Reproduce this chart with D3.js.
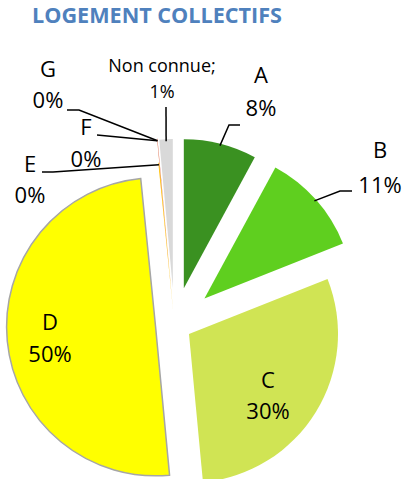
<!DOCTYPE html>
<html>
<head>
<meta charset="utf-8">
<script src="https://cdn.jsdelivr.net/npm/d3@7"></script>
<style>
  body { margin: 0; background: #fff; }
  svg { display: block; }
</style>
</head>
<body>
<div class="chart"></div>
<script>
// data
const categories = ["A", "B", "C", "D", "E", "F", "G", "Non connue"];
const values = [7.9, 11.1, 29.5, 49.9, 0.1, 0.02, 0.02, 1.45];
const colors = ["#3a9121", "#5fcf1f", "#d0e454", "#ffff00", "#ffc000", "#e36c09", "#c00000", "#d9d9d9"];

const width = 406;
const height = 479;
const radius = 149;
const cx = 174.5, cy = 325;

// how far each slice is pulled out of the pie
const explode = [38, 40, 17, 19, 14, 38, 38, 37];

// label layout: first baseline, line height, font size, leader elbow / end
const labelLayout = {
  "A":          { x: 261, y: 83,  lh: 33, size: 22, leader: [[229, 125], [240, 125]] },
  "B":          { x: 380, y: 158, lh: 35, size: 22, leader: [[340, 191], [352, 191]] },
  "C":          { x: 268, y: 388, lh: 31, size: 22, leader: null },
  "D":          { x: 50,  y: 330, lh: 32, size: 22, leader: null },
  "E":          { x: 30,  y: 172, lh: 31, size: 22, leader: [[53, 172], [42, 172]] },
  "F":          { x: 86,  y: 135, lh: 32, size: 22, leader: [[97, 135]] },
  "G":          { x: 48,  y: 77,  lh: 31, size: 22, leader: [[79, 110], [67, 110]] },
  "Non connue": { x: 162, y: 72,  lh: 26, size: 18, leader: [[166, 107]] }
};

const total = d3.sum(values);

const svg = d3.select(".chart").append("svg")
  .attr("width", width)
  .attr("height", height);

// title
svg.append("text")
  .attr("x", 32)
  .attr("y", 23)
  .attr("textLength", 250)
  .attr("lengthAdjust", "spacingAndGlyphs")
  .style("font-family", "Open Sans")
  .style("font-weight", "700")
  .style("font-size", "21px")
  .attr("fill", "#4f81bd")
  .text("LOGEMENT COLLECTIFS");

const pie = d3.pie()
  .value(function(d) { return d; })
  .sort(null);

const arc = d3.arc()
  .innerRadius(0)
  .outerRadius(radius);

const arcs = pie(values);

function mid(d) { return (d.startAngle + d.endAngle) / 2; }
function offset(d, i) {
  const a = mid(d);
  return [cx + explode[i] * Math.sin(a), cy - explode[i] * Math.cos(a)];
}

const slices = svg.selectAll(".slice")
  .data(arcs)
  .enter()
  .append("g")
  .attr("class", "slice")
  .attr("transform", function(d, i) {
    const o = offset(d, i);
    return "translate(" + o[0] + "," + o[1] + ")";
  });

slices.append("path")
  .attr("d", arc)
  .attr("fill", function(d, i) { return colors[i]; })
  .attr("stroke", function(d, i) { return categories[i] === "D" ? "#a6a6a6" : "none"; })
  .attr("stroke-width", 1.5);

// leader lines
arcs.forEach(function(d, i) {
  const lay = labelLayout[categories[i]];
  if (!lay.leader) return;
  const o = offset(d, i);
  const a = mid(d);
  const start = [o[0] + (radius - 2) * Math.sin(a), o[1] - (radius - 2) * Math.cos(a)];
  svg.append("path")
    .attr("d", d3.line()([start].concat(lay.leader)))
    .attr("fill", "none")
    .attr("stroke", "#000")
    .attr("stroke-width", 1.5);
});

// labels
arcs.forEach(function(d, i) {
  const lay = labelLayout[categories[i]];
  const name = categories[i] === "Non connue" ? "Non connue;" : categories[i];
  const pct = Math.round(d.data / total * 100) + "%";
  const t = svg.append("text")
    .style("text-anchor", "middle")
    .style("font-family", "Open Sans")
    .style("font-size", lay.size + "px")
    .attr("fill", "#000");
  t.append("tspan").attr("x", lay.x).attr("y", lay.y).text(name);
  t.append("tspan").attr("x", lay.x).attr("y", lay.y + lay.lh).text(pct);
});
</script>
</body>
</html>
